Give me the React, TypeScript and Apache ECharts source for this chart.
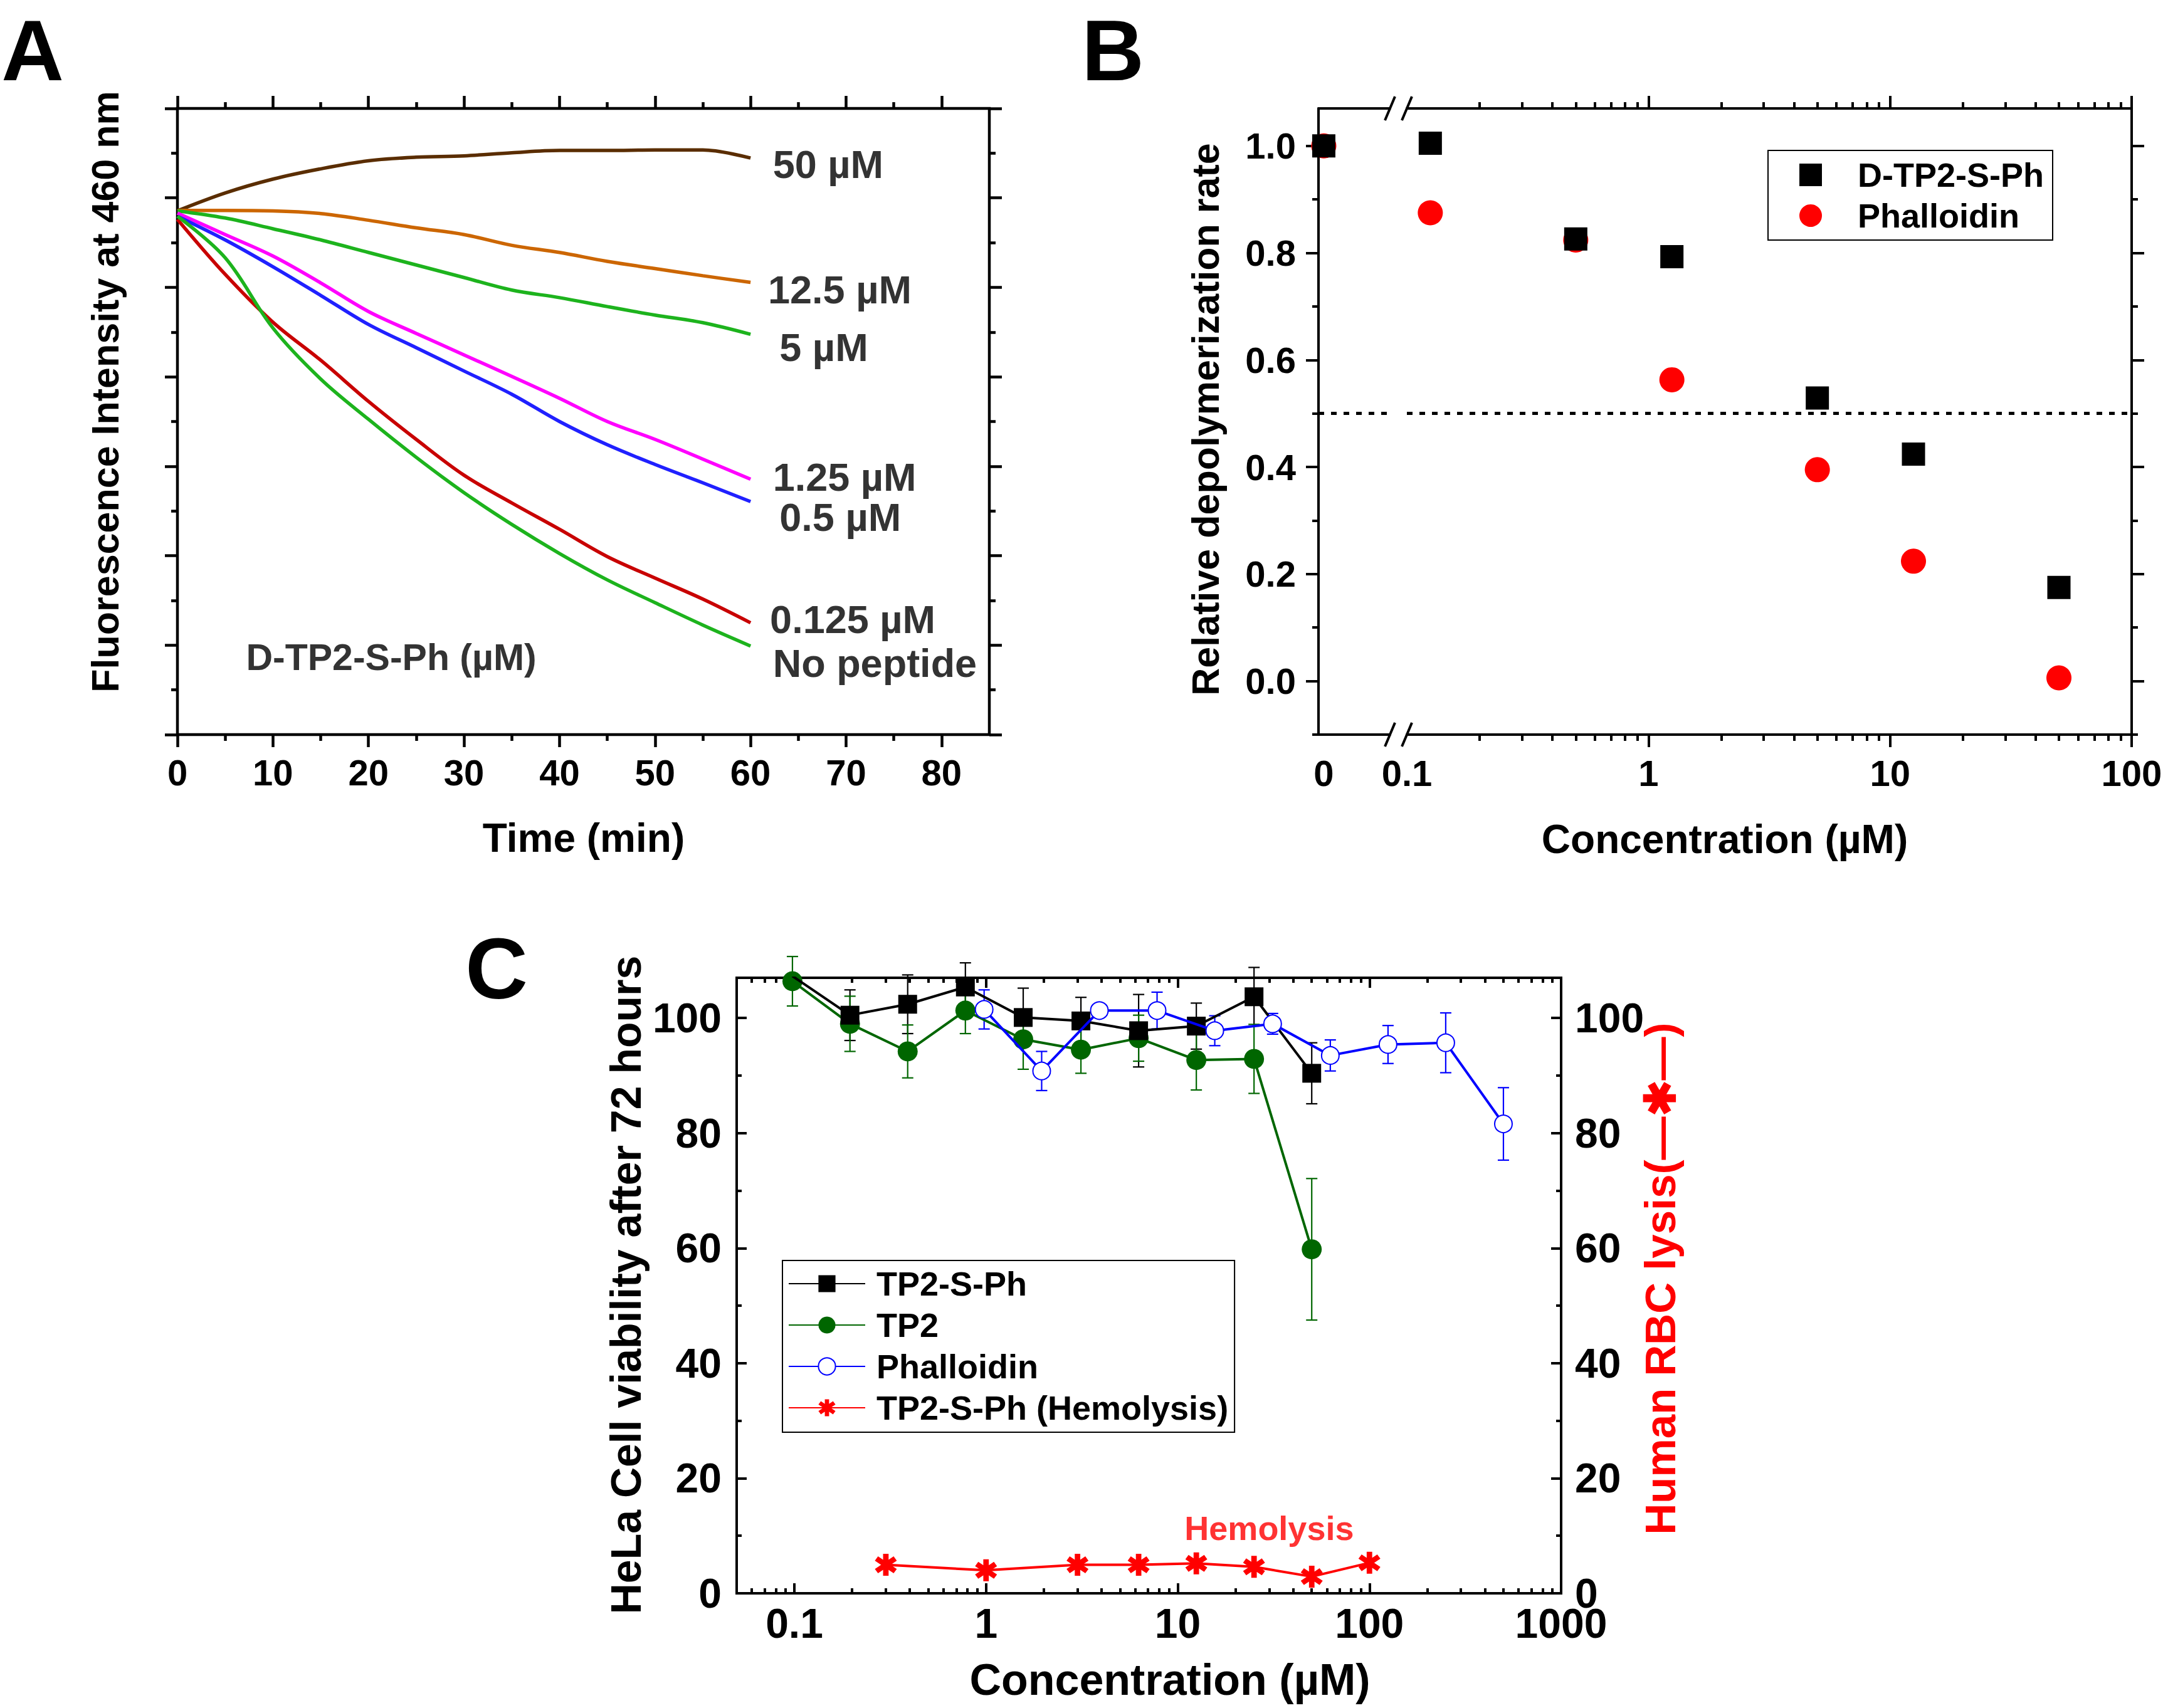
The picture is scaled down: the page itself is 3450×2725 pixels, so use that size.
import React, { useEffect, useRef } from 'react';
import * as echarts from 'echarts';

const FONT = '"Liberation Sans", Arial, Helvetica, sans-serif';
const W = 3450;
const H = 2725;

// ---------------- Panel A data ----------------
const timeMin = [0, 5, 10, 15, 20, 25, 30, 35, 40, 45, 50, 55, 60];
const curve50 = [11.71, 12.11, 12.42, 12.65, 12.83, 12.91, 12.94, 13.01, 13.06, 13.06, 13.07, 13.07, 12.89];
const curve12_5 = [11.72, 11.72, 11.71, 11.65, 11.5, 11.33, 11.18, 10.94, 10.78, 10.58, 10.42, 10.26, 10.11];
const curve5 = [11.71, 11.55, 11.31, 11.06, 10.78, 10.5, 10.22, 9.94, 9.77, 9.57, 9.38, 9.21, 8.95];
const curve1_25 = [11.66, 11.18, 10.7, 10.1, 9.46, 8.97, 8.49, 8.01, 7.52, 7.0, 6.6, 6.16, 5.71];
const curve0_5 = [11.59, 11.06, 10.46, 9.82, 9.17, 8.65, 8.13, 7.61, 7.0, 6.48, 6.04, 5.63, 5.21];
const curve0_125 = [11.52, 10.29, 9.22, 8.37, 7.45, 6.6, 5.8, 5.18, 4.59, 3.98, 3.5, 3.03, 2.5];
const curveNone = [11.59, 10.66, 9.09, 7.95, 7.05, 6.2, 5.41, 4.7, 4.05, 3.46, 2.95, 2.45, 1.98];
const aCurveNames = ['50 µM', '12.5 µM', '5 µM', '1.25 µM', '0.5 µM', '0.125 µM', 'No peptide'];
const aLabelX = [62.3, 61.8, 63.0, 62.3, 63.0, 62.0, 62.3];
const aLabelY = [12.75, 9.95, 8.66, 5.76, 4.86, 2.58, 1.6];
const aNote = 'D-TP2-S-Ph (µM)';
const aNoteX = 7.15;
const aNoteY = 1.72;
const aMajorX = [0, 10, 20, 30, 40, 50, 60, 70, 80];
const aMinorX = [5, 15, 25, 35, 45, 55, 65, 75];
const aMajorY = [0, 2, 4, 6, 8, 10, 12, 14];
const aMinorY = [1, 3, 5, 7, 9, 11, 13];
const aColors = ['#5A2D00', '#CC6600', '#1DB31D', '#FF00FF', '#2020FF', '#C80000', '#1DB31D'];

// ---------------- Panel B data ----------------
const bConc = [0.125, 0.5, 1.25, 5, 12.5, 50];
const bPeptide = [1.005, 0.826, 0.793, 0.529, 0.424, 0.175];
const bPhalloidin = [0.875, 0.824, 0.563, 0.395, 0.224, 0.006];
const bZeroPeptide = 1.0;
const bZeroPhalloidin = 1.0;
const bHalf = 0.5;
const bMajorY = [0, 0.2, 0.4, 0.6, 0.8, 1.0];
const bMinorY = [-0.1, 0.1, 0.3, 0.5, 0.7, 0.9];
const bMajorX = [1, 10, 100];
const bLabelX = [0.1, 1, 10, 100];
const bMinorX = [0.2, 0.3, 0.4, 0.5, 0.6, 0.7, 0.8, 0.9, 2, 3, 4, 5, 6, 7, 8, 9, 20, 30, 40, 50, 60, 70, 80, 90];

// ---------------- Panel C data ----------------
const cConcTP2 = [0.0977, 0.195, 0.39, 0.78, 1.5625, 3.125, 6.25, 12.5, 25, 50];
const cTP2SPh = [107.3, 100.5, 102.4, 105.4, 100.1, 99.5, 97.8, 98.6, 103.7, 90.4];
const cTP2SPhErr = [0, 4.4, 5.1, 4.2, 5.1, 4.1, 6.3, 4.0, 5.1, 5.3];
const cTP2 = [106.4, 99.0, 94.2, 101.3, 96.3, 94.5, 96.5, 92.7, 92.9, 59.8];
const cTP2Err = [4.3, 4.8, 4.6, 4.0, 5.2, 4.1, 4.0, 5.2, 6.0, 12.3];
const cConcPhall = [0.977, 1.95, 3.9, 7.8, 15.6, 31.25, 62.5, 125, 250, 500];
const cPhall = [101.5, 90.8, 101.3, 101.3, 97.8, 99.0, 93.5, 95.4, 95.7, 81.6];
const cPhallErr = [3.4, 3.4, 1.0, 3.2, 2.6, 1.8, 2.7, 3.3, 5.2, 6.3];
const cConcHemo = [0.3, 1, 3, 6.25, 12.5, 25, 50, 100];
const cHemo = [4.95, 4.0, 4.95, 4.95, 5.2, 4.6, 2.9, 5.3];
const cHemoNote = 'Hemolysis';
const cHemoNoteX = 30;
const cHemoNoteY = 11.3;
const cMajorX = [0.1, 1, 10, 100, 1000];
const cMinorX = [0.06, 0.07, 0.08, 0.09, 0.2, 0.3, 0.4, 0.5, 0.6, 0.7, 0.8, 0.9, 2, 3, 4, 5, 6, 7, 8, 9,
  20, 30, 40, 50, 60, 70, 80, 90, 200, 300, 400, 500, 600, 700, 800, 900];
const cMajorY = [0, 20, 40, 60, 80, 100];
const cMinorY = [10, 30, 50, 70, 90];

// ---------------- layout ----------------
const GA = { left: 283, top: 173, width: 1295, height: 999 };
const GB1 = { left: 2103, top: 173, width: 114, height: 999 };
const GB2 = { left: 2244, top: 173, width: 1156, height: 999 };
const GC = { left: 1175, top: 1560, width: 1315, height: 982 };

function starSymbol() {
  const parts: string[] = [];
  const t = 0.12;
  for (const deg of [90, 35, 145]) {
    const a = (deg * Math.PI) / 180;
    const dx = Math.cos(a) * 0.5;
    const dy = Math.sin(a) * 0.5;
    const px = -Math.sin(a) * t;
    const py = Math.cos(a) * t;
    const pts = [[dx + px, dy + py], [dx - px, dy - py], [-dx - px, -dy - py], [-dx + px, -dy + py]];
    parts.push('M' + pts.map((p) => `${(50 + p[0] * 100).toFixed(2)} ${(50 + p[1] * 100).toFixed(2)}`).join(' L') + ' Z');
  }
  return 'path://' + parts.join(' ');
}

function axis(o: any) {
  const {
    grid, type = 'value', min, max, pos, line = false, lineWidth = 4, ticks = [], tickLen = 20,
    inside = false, labels = null, labelSize = 58, margin = 20, fmt, lineHeight,
  } = o;
  return {
    gridIndex: grid,
    type,
    min,
    max,
    position: pos,
    logBase: 10,
    silent: true,
    axisLine: { show: line, onZero: false, lineStyle: { color: '#000', width: lineWidth } },
    axisTick: {
      show: ticks.length > 0,
      customValues: ticks.length > 0 ? ticks : undefined,
      length: tickLen,
      inside,
      lineStyle: { color: '#000', width: lineWidth },
    },
    axisLabel: labels
      ? {
          show: true,
          customValues: labels,
          fontSize: labelSize,
          fontWeight: 'bold',
          fontFamily: FONT,
          color: '#000',
          margin,
          lineHeight,
          formatter: fmt,
          showMinLabel: true,
          showMaxLabel: true,
          hideOverlap: false,
        }
      : { show: false },
    minorTick: { show: false },
    splitLine: { show: false },
    minorSplitLine: { show: false },
  };
}

const numFmt = (v: any) => {
  const n = Number(v);
  return n < 1 ? String(+n.toPrecision(2)) : String(Math.round(n));
};

const B_PEP = 'D-TP2-S-Ph';
const B_PHALL = 'Phalloidin-B';

function buildOption() {
  const xAxis: any[] = [];
  const yAxis: any[] = [];
  const addX = (o: any) => { xAxis.push(axis(o)); return xAxis.length - 1; };
  const addY = (o: any) => { yAxis.push(axis(o)); return yAxis.length - 1; };

  // ---- Panel A axes (grid 0) ----
  const xA = addX({ grid: 0, min: 0, max: 85, pos: 'bottom', ticks: aMajorX, tickLen: 20, lineWidth: 4.5, labels: aMajorX, margin: 31 });
  addX({ grid: 0, min: 0, max: 85, pos: 'bottom', ticks: aMinorX, tickLen: 10, lineWidth: 4.5 });
  addX({ grid: 0, min: 0, max: 85, pos: 'top', ticks: aMajorX, tickLen: 20, lineWidth: 4.5 });
  addX({ grid: 0, min: 0, max: 85, pos: 'top', ticks: aMinorX, tickLen: 10, lineWidth: 4.5 });
  const yA = addY({ grid: 0, min: 0, max: 14, pos: 'left', ticks: aMajorY, tickLen: 20, lineWidth: 4.5 });
  addY({ grid: 0, min: 0, max: 14, pos: 'left', ticks: aMinorY, tickLen: 10, lineWidth: 4.5 });
  addY({ grid: 0, min: 0, max: 14, pos: 'right', ticks: aMajorY, tickLen: 20, lineWidth: 4.5 });
  addY({ grid: 0, min: 0, max: 14, pos: 'right', ticks: aMinorY, tickLen: 10, lineWidth: 4.5 });

  // ---- Panel B axes (grids 1, 2) ----
  const xB1 = addX({ grid: 1, min: -0.08, max: 1, pos: 'bottom', line: true, labels: [0], margin: 32 });
  addX({ grid: 1, min: -0.08, max: 1, pos: 'top', line: true });
  const yB1 = addY({ grid: 1, min: -0.1, max: 1.07, pos: 'left', line: true, ticks: bMajorY, tickLen: 20, labels: bMajorY, margin: 36, fmt: (v: any) => Number(v).toFixed(1) });
  addY({ grid: 1, min: -0.1, max: 1.07, pos: 'left', ticks: bMinorY, tickLen: 10 });
  const xB2 = addX({ grid: 2, type: 'log', min: 0.1, max: 100, pos: 'bottom', line: true, ticks: bMajorX, tickLen: 20, labels: bLabelX, margin: 32, fmt: numFmt });
  addX({ grid: 2, type: 'log', min: 0.1, max: 100, pos: 'bottom', ticks: bMinorX, tickLen: 10 });
  addX({ grid: 2, type: 'log', min: 0.1, max: 100, pos: 'top', line: true, ticks: bMajorX, tickLen: 20 });
  addX({ grid: 2, type: 'log', min: 0.1, max: 100, pos: 'top', ticks: bMinorX, tickLen: 10 });
  const yB2 = addY({ grid: 2, min: -0.1, max: 1.07, pos: 'right', line: true, ticks: bMajorY, tickLen: 20 });
  addY({ grid: 2, min: -0.1, max: 1.07, pos: 'right', ticks: bMinorY, tickLen: 10 });

  // ---- Panel C axes (grid 3) ----
  const xC = addX({ grid: 3, type: 'log', min: 0.05, max: 1000, pos: 'bottom', ticks: cMajorX, tickLen: 16, inside: true, labels: cMajorX, labelSize: 66, margin: 22, lineHeight: 52, fmt: numFmt });
  addX({ grid: 3, type: 'log', min: 0.05, max: 1000, pos: 'bottom', ticks: cMinorX, tickLen: 8, inside: true });
  addX({ grid: 3, type: 'log', min: 0.05, max: 1000, pos: 'top', ticks: cMajorX, tickLen: 16, inside: true });
  addX({ grid: 3, type: 'log', min: 0.05, max: 1000, pos: 'top', ticks: cMinorX, tickLen: 8, inside: true });
  const yC = addY({ grid: 3, min: 0, max: 107, pos: 'left', ticks: cMajorY, tickLen: 16, inside: true, labels: cMajorY, labelSize: 66, margin: 24, lineHeight: 40 });
  addY({ grid: 3, min: 0, max: 107, pos: 'left', ticks: cMinorY, tickLen: 8, inside: true });
  const yCR = addY({ grid: 3, min: 0, max: 107, pos: 'right', ticks: cMajorY, tickLen: 16, inside: true, labels: cMajorY, labelSize: 66, margin: 22, lineHeight: 40 });
  addY({ grid: 3, min: 0, max: 107, pos: 'right', ticks: cMinorY, tickLen: 8, inside: true });

  const series: any[] = [];

  // ---- Panel A series ----
  const aCurves = [curve50, curve12_5, curve5, curve1_25, curve0_5, curve0_125, curveNone];
  aCurves.forEach((c, k) => {
    series.push({
      type: 'line',
      name: aCurveNames[k],
      xAxisIndex: xA,
      yAxisIndex: yA,
      data: timeMin.map((t, i) => [t, c[i]]),
      symbol: 'none',
      smooth: 0.35,
      lineStyle: { color: aColors[k], width: 5.5 },
      itemStyle: { color: aColors[k] },
      silent: true,
      z: 3,
    });
  });
  series.push({
    type: 'scatter',
    xAxisIndex: xA,
    yAxisIndex: yA,
    symbolSize: 1,
    itemStyle: { color: 'rgba(0,0,0,0)' },
    silent: true,
    z: 6,
    label: {
      show: true, position: 'right', distance: 0, formatter: '{b}',
      fontSize: 63, fontWeight: 'bold', fontFamily: FONT, color: '#000',
    },
    data: [
      ...aCurveNames.map((n, i) => ({ name: n, value: [aLabelX[i], aLabelY[i]] })),
      { name: aNote, value: [aNoteX, aNoteY], label: { fontSize: 59 } },
    ],
  });

  // ---- Panel B series ----
  const halfLine = {
    silent: true,
    symbol: 'none',
    label: { show: false },
    lineStyle: { type: [9, 11], width: 5, color: '#000' },
    data: [{ yAxis: bHalf }],
  };
  series.push({
    type: 'scatter', name: B_PHALL, xAxisIndex: xB1, yAxisIndex: yB1,
    data: [[0, bZeroPhalloidin]], symbol: 'circle', symbolSize: 40, itemStyle: { color: '#FF0000', opacity: 1 }, z: 3,
  });
  series.push({
    type: 'scatter', name: B_PEP, xAxisIndex: xB1, yAxisIndex: yB1,
    data: [[0, bZeroPeptide]], symbol: 'rect', symbolSize: 37, itemStyle: { color: '#000', opacity: 1 }, z: 4,
    markLine: halfLine,
  });
  series.push({
    type: 'scatter', name: B_PHALL, xAxisIndex: xB2, yAxisIndex: yB2,
    data: bConc.map((c, i) => [c, bPhalloidin[i]]), symbol: 'circle', symbolSize: 40, itemStyle: { color: '#FF0000', opacity: 1 }, z: 3,
  });
  series.push({
    type: 'scatter', name: B_PEP, xAxisIndex: xB2, yAxisIndex: yB2,
    data: bConc.map((c, i) => [c, bPeptide[i]]), symbol: 'rect', symbolSize: 37, itemStyle: { color: '#000', opacity: 1 }, z: 4,
    markLine: halfLine,
  });

  // ---- Panel C series ----
  const errSeries = (xs: number[], ys: number[], es: number[], color: string) => ({
    type: 'custom',
    xAxisIndex: xC,
    yAxisIndex: yC,
    silent: true,
    clip: false,
    z: 2,
    encode: { x: 0, y: [1, 2] },
    data: xs.map((x, i) => [x, ys[i] - es[i], ys[i] + es[i]]).filter((_, i) => es[i] > 0),
    renderItem: (params: any, api: any) => {
      const x = api.value(0);
      const a = api.coord([x, api.value(2)]);
      const b = api.coord([x, api.value(1)]);
      const st = { stroke: color, lineWidth: 2.2 };
      return {
        type: 'group',
        children: [
          { type: 'line', shape: { x1: a[0], y1: a[1], x2: b[0], y2: b[1] }, style: st },
          { type: 'line', shape: { x1: a[0] - 9, y1: a[1], x2: a[0] + 9, y2: a[1] }, style: st },
          { type: 'line', shape: { x1: b[0] - 9, y1: b[1], x2: b[0] + 9, y2: b[1] }, style: st },
        ],
      };
    },
  });
  series.push(errSeries(cConcTP2, cTP2SPh, cTP2SPhErr, '#000'));
  series.push(errSeries(cConcTP2, cTP2, cTP2Err, '#006600'));
  series.push(errSeries(cConcPhall, cPhall, cPhallErr, '#0000FF'));

  series.push({
    type: 'line', name: 'TP2-S-Ph', xAxisIndex: xC, yAxisIndex: yC,
    data: cConcTP2.map((x, i) => (i === 0 ? { value: [x, cTP2SPh[i]], symbol: 'none' } : [x, cTP2SPh[i]])),
    symbol: 'rect', symbolSize: 30, showAllSymbol: true,
    lineStyle: { color: '#000', width: 4 }, itemStyle: { color: '#000' }, z: 5,
  });
  series.push({
    type: 'line', name: 'TP2', xAxisIndex: xC, yAxisIndex: yC,
    data: cConcTP2.map((x, i) => [x, cTP2[i]]),
    symbol: 'circle', symbolSize: 32, showAllSymbol: true,
    lineStyle: { color: '#006600', width: 4 }, itemStyle: { color: '#006600' }, z: 4,
  });
  series.push({
    type: 'line', name: 'Phalloidin', xAxisIndex: xC, yAxisIndex: yC,
    data: cConcPhall.map((x, i) => [x, cPhall[i]]),
    symbol: 'emptyCircle', symbolSize: 28, showAllSymbol: true,
    lineStyle: { color: '#0000FF', width: 4 }, itemStyle: { color: '#0000FF', borderWidth: 4.5 }, z: 6,
  });
  series.push({
    type: 'line', name: 'TP2-S-Ph (Hemolysis)', xAxisIndex: xC, yAxisIndex: yCR,
    data: cConcHemo.map((x, i) => [x, cHemo[i]]),
    symbol: starSymbol(), symbolSize: 35, showAllSymbol: true,
    lineStyle: { color: '#FF0000', width: 4 }, itemStyle: { color: '#FF0000' }, z: 5,
  });
  series.push({
    type: 'scatter', xAxisIndex: xC, yAxisIndex: yC, symbolSize: 1,
    itemStyle: { color: 'rgba(0,0,0,0)' }, silent: true, z: 7,
    label: {
      show: true, position: 'inside', formatter: '{b}',
      fontSize: 54, fontWeight: 'bold', fontFamily: FONT, color: '#FF0000',
    },
    data: [{ name: cHemoNote, value: [cHemoNoteX, cHemoNoteY] }],
  });

  const T = (text: string, x: number, y: number, size: number, rot = 0, color = '#000') => ({
    type: 'text', x, y, rotation: rot, silent: true, z: 100,
    style: {
      text, fill: color, fontSize: size, fontWeight: 'bold', fontFamily: FONT,
      align: 'center', verticalAlign: 'middle', textAlign: 'center', textVerticalAlign: 'middle',
    },
  });
  const breakMarks: any[] = [];
  const bx1 = GB1.left + GB1.width;
  const bx2 = GB2.left;
  for (const y of [GB1.top, GB1.top + GB1.height]) {
    for (const x of [bx1, bx2]) {
      breakMarks.push({
        type: 'line', silent: true, z: 100,
        shape: { x1: x - 8, y1: y + 19, x2: x + 8, y2: y - 19 },
        style: { stroke: '#000', lineWidth: 4 },
      });
    }
  }

  const legendText = { fontSize: 54, fontWeight: 'bold', fontFamily: FONT, color: '#000' };

  return {
    animation: false,
    backgroundColor: '#fff',
    grid: [
      { ...GA, show: true, borderColor: '#000', borderWidth: 4.5, backgroundColor: 'transparent', containLabel: false, outerBoundsMode: 'none' },
      { ...GB1, show: false, containLabel: false, outerBoundsMode: 'none' },
      { ...GB2, show: false, containLabel: false, outerBoundsMode: 'none' },
      { ...GC, show: true, borderColor: '#000', borderWidth: 4, backgroundColor: 'transparent', containLabel: false, outerBoundsMode: 'none' },
    ],
    xAxis,
    yAxis,
    legend: [
      {
        left: 2820, top: 240, orient: 'vertical', selectedMode: false,
        data: [{ name: B_PEP, icon: 'rect' }, { name: B_PHALL, icon: 'circle' }],
        formatter: (n: string) => (n === B_PHALL ? 'Phalloidin' : n),
        itemWidth: 36, itemHeight: 36, itemGap: 11,
        padding: [12, 14, 12, 50],
        borderColor: '#000', borderWidth: 2,
        textStyle: { ...legendText, padding: [0, 0, 0, 52] },
      },
      {
        left: 1248, top: 2011, orient: 'vertical', selectedMode: false,
        data: ['TP2-S-Ph', 'TP2', 'Phalloidin', 'TP2-S-Ph (Hemolysis)'],
        itemWidth: 122, itemHeight: 34, itemGap: 12,
        padding: [10, 10, 12, 9],
        borderColor: '#000', borderWidth: 2,
        textStyle: { ...legendText, padding: [0, 0, 0, 13] },
      },
    ],
    graphic: [
      T('A', 52, 80, 138),
      T('B', 1775, 80, 138),
      T('C', 792, 1545, 138),
      T('Fluorescence Intensity at 460 nm', 168, 625, 61, Math.PI / 2),
      T('Time (min)', 931, 1337, 64),
      T('Relative depolymerization rate', 1923, 669, 61, Math.PI / 2),
      T('Concentration (µM)', 2751, 1339, 64),
      T('HeLa Cell viability after 72 hours', 998, 2050, 68, Math.PI / 2),
      T('Human RBC lysis(—✱—)', 2648, 2040, 69, Math.PI / 2, '#FF0000'),
      T('Concentration (µM)', 1866, 2680, 70),
      ...breakMarks,
    ],
    series,
  };
}

export default function App() {
  const ref = useRef<HTMLDivElement>(null);
  useEffect(() => {
    document.body.style.margin = '0';
    const chart = echarts.init(ref.current as HTMLDivElement, null, { renderer: 'svg', width: W, height: H });
    chart.setOption(buildOption() as any);
    return () => chart.dispose();
  }, []);
  return <div ref={ref} style={{ width: W, height: H, background: '#fff' }} />;
}
